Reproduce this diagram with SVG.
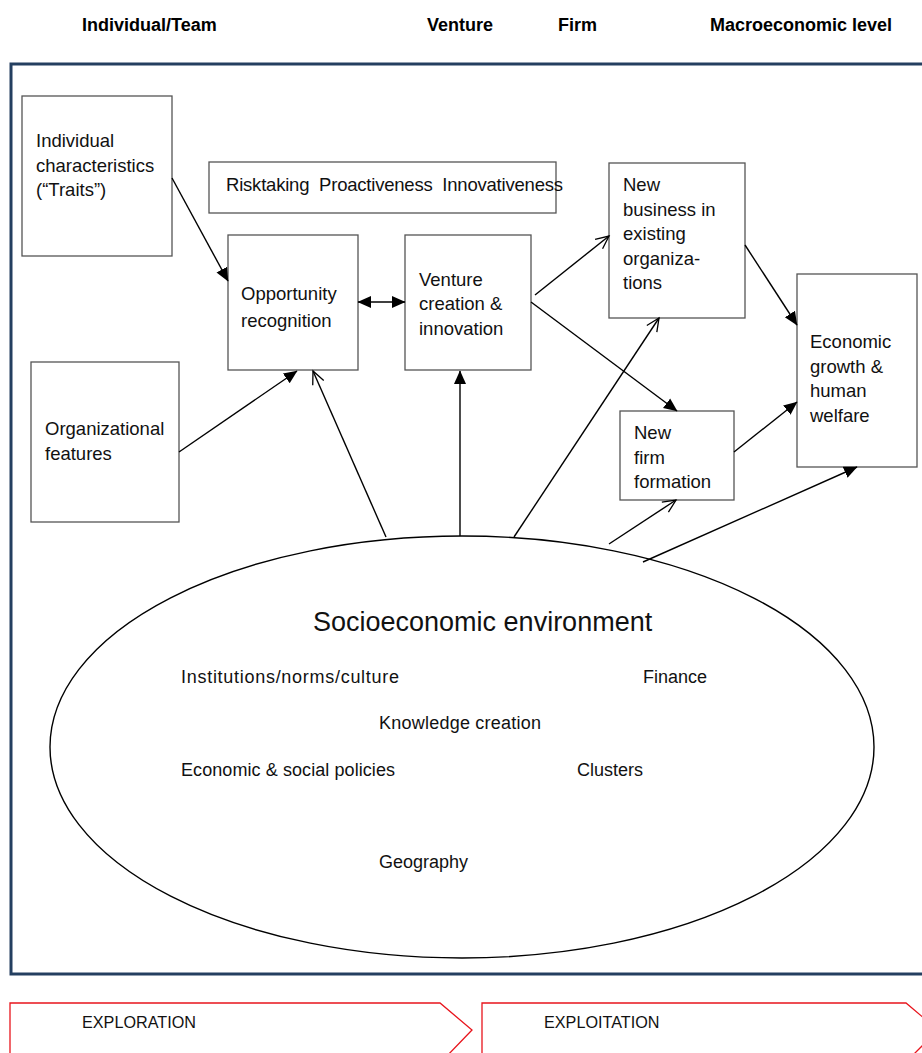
<svg xmlns="http://www.w3.org/2000/svg" width="922" height="1053" viewBox="0 0 922 1053">
<defs>
<style>
.hdr{font-family:"Liberation Sans",Arial,sans-serif;font-weight:bold;font-size:18px;fill:#000}
.t{font-family:"Liberation Sans",Arial,sans-serif;font-size:18.5px;fill:#111}
.e{font-family:"Liberation Sans",Arial,sans-serif;font-size:18px;fill:#111}
.big{font-family:"Liberation Sans",Arial,sans-serif;font-size:27px;fill:#111}
.ph{font-family:"Liberation Sans",Arial,sans-serif;font-size:16.2px;fill:#111}
.box{fill:#fff;stroke:#555;stroke-width:1.3}
.c{stroke:#000;stroke-width:1.4;fill:none}
.f{marker-end:url(#fa)}
.o{marker-end:url(#oa)}
.chev{fill:none;stroke:#e8141c;stroke-width:1.3}
</style>
<marker id="fa" markerUnits="userSpaceOnUse" markerWidth="14" markerHeight="14" viewBox="0 0 14 14" refX="13" refY="7" orient="auto-start-reverse">
<path d="M0,1 L13.5,7 L0,13 z" fill="#000"/>
</marker>
<marker id="oa" markerUnits="userSpaceOnUse" markerWidth="16" markerHeight="16" viewBox="0 0 16 16" refX="14" refY="8" orient="auto">
<path d="M1,2 L14,8 L1,14" fill="none" stroke="#000" stroke-width="1.3"/>
</marker>
</defs>
<rect width="922" height="1053" fill="#fff"/>

<g id="headers">
<text class="hdr" x="82" y="31">Individual/Team</text>
<text class="hdr" x="427" y="31">Venture</text>
<text class="hdr" x="558" y="31">Firm</text>
<text class="hdr" x="710" y="31">Macroeconomic level</text>
</g>

<rect id="frame" x="11" y="64" width="930" height="910" fill="none" stroke="#243f60" stroke-width="3"/>

<g id="environment">
<ellipse cx="462" cy="747" rx="412" ry="211" fill="none" stroke="#000" stroke-width="1.4"/>
<text class="big" x="313" y="631">Socioeconomic environment</text>
<text class="e" x="181" y="683" textLength="218">Institutions/norms/culture</text>
<text class="e" x="643" y="683">Finance</text>
<text class="e" x="379" y="729" textLength="162">Knowledge creation</text>
<text class="e" x="181" y="776" textLength="214">Economic &amp; social policies</text>
<text class="e" x="577" y="776">Clusters</text>
<text class="e" x="379" y="868">Geography</text>
</g>

<g id="individual">
<rect class="box" x="22" y="96" width="150" height="160"/>
<text class="t" x="36" y="147">Individual</text>
<text class="t" x="36" y="171.5">characteristics</text>
<text class="t" x="36" y="196">(“Traits”)</text>
</g>

<g id="orientation">
<rect class="box" x="209" y="162" width="347" height="51"/>
<text class="t" x="226" y="191" xml:space="preserve" textLength="337">Risktaking  Proactiveness  Innovativeness</text>
</g>

<g id="opportunity">
<rect class="box" x="228" y="235" width="130" height="135"/>
<text class="t" x="241" y="300">Opportunity</text>
<text class="t" x="241" y="327">recognition</text>
</g>

<g id="venture">
<rect class="box" x="405" y="235" width="126" height="135"/>
<text class="t" x="419" y="285.5">Venture</text>
<text class="t" x="419" y="310">creation &amp;</text>
<text class="t" x="419" y="334.5">innovation</text>
</g>

<g id="newbusiness">
<rect class="box" x="609" y="163" width="136" height="155"/>
<text class="t" x="623" y="191">New</text>
<text class="t" x="623" y="215.5">business in</text>
<text class="t" x="623" y="240">existing</text>
<text class="t" x="623" y="264.5">organiza-</text>
<text class="t" x="623" y="289">tions</text>
</g>

<g id="economic">
<rect class="box" x="797" y="274" width="120" height="193"/>
<text class="t" x="810" y="348">Economic</text>
<text class="t" x="810" y="372.5">growth &amp;</text>
<text class="t" x="810" y="397">human</text>
<text class="t" x="810" y="421.5">welfare</text>
</g>

<g id="organizational">
<rect class="box" x="31" y="362" width="148" height="160"/>
<text class="t" x="45" y="435">Organizational</text>
<text class="t" x="45" y="460">features</text>
</g>

<g id="newfirm">
<rect class="box" x="620" y="411" width="114" height="89"/>
<text class="t" x="634" y="439">New</text>
<text class="t" x="634" y="463.5">firm</text>
<text class="t" x="634" y="488">formation</text>
</g>

<g id="connectors">
<line class="c f" x1="172" y1="178" x2="228" y2="281"/>
<line class="c f" x1="358" y1="302" x2="405" y2="302" style="marker-start:url(#fa)"/>
<line class="c f" x1="179" y1="452" x2="297" y2="371"/>
<line class="c o" x1="386" y1="537" x2="313" y2="371"/>
<line class="c f" x1="460" y1="536" x2="460" y2="371"/>
<line class="c o" x1="535" y1="295" x2="609" y2="236"/>
<line class="c f" x1="531" y1="302" x2="677" y2="411"/>
<line class="c o" x1="514" y1="537" x2="659" y2="318"/>
<line class="c f" x1="745" y1="245" x2="797" y2="325"/>
<line class="c f" x1="734" y1="452" x2="797" y2="402"/>
<line class="c o" x1="609" y1="544" x2="676" y2="500"/>
<line class="c f" x1="643" y1="562" x2="857" y2="467"/>
</g>

<g id="exploration">
<path class="chev" d="M10,1060 V1003 H440 L472,1030 L445,1058"/>
<text class="ph" x="82" y="1028">EXPLORATION</text>
</g>
<g id="exploitation">
<path class="chev" d="M482,1060 V1003 H906 L938,1030 L910,1058"/>
<text class="ph" x="544" y="1028">EXPLOITATION</text>
</g>
</svg>
